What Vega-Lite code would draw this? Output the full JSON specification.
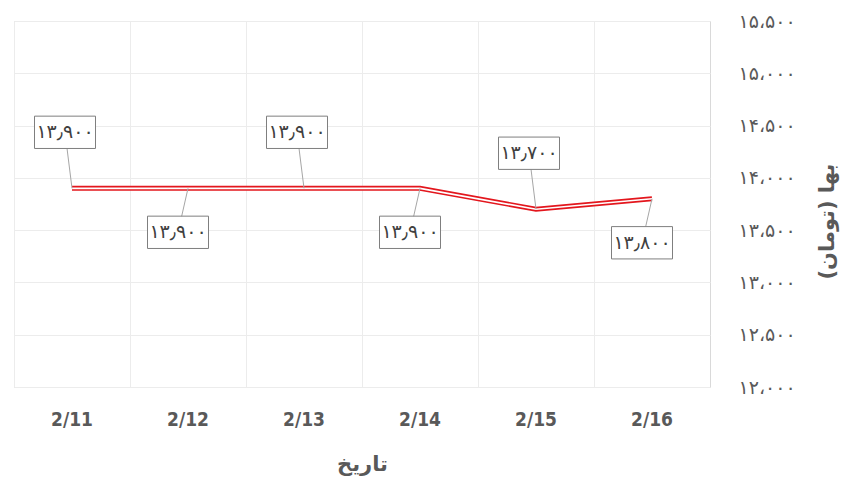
{
  "$schema": "https://vega.github.io/schema/vega-lite/v6.json",
  "description": "Daily price (toman), 2/11 to 2/16, line with boxed value labels.",
  "width": 696,
  "height": 366,
  "padding": {"left": 14, "top": 12, "right": 10, "bottom": 10},
  "background": "white",
  "data": {
    "values": [
      {"date": "2/11", "price": 13900},
      {"date": "2/12", "price": 13900},
      {"date": "2/13", "price": 13900},
      {"date": "2/14", "price": 13900},
      {"date": "2/15", "price": 13700},
      {"date": "2/16", "price": 13800}
    ]
  },
  "transform": [
    {
      "calculate": "replace(replace(replace(replace(replace(replace(replace(replace(replace(replace(replace(format(datum.price, ','), regexp(',', 'g'), '٫'), regexp('0', 'g'), '۰'), regexp('1', 'g'), '۱'), regexp('2', 'g'), '۲'), regexp('3', 'g'), '۳'), regexp('4', 'g'), '۴'), regexp('5', 'g'), '۵'), regexp('6', 'g'), '۶'), regexp('7', 'g'), '۷'), regexp('8', 'g'), '۸'), regexp('9', 'g'), '۹')",
      "as": "label"
    }
  ],
  "encoding": {
    "x": {
      "field": "date",
      "type": "nominal",
      "sort": null,
      "bandPosition": 0.5,
      "scale": {"type": "band", "paddingInner": 0, "paddingOuter": 0},
      "axis": {
        "orient": "bottom",
        "title": "تاریخ",
        "labelAngle": 0,
        "labelFont": "DejaVu Sans Condensed",
        "labelFontSize": 19,
        "labelFontWeight": "bold",
        "labelColor": "#595959",
        "labelPadding": 23,
        "titleFont": "DejaVu Sans",
        "titleFontSize": 21,
        "titleFontWeight": "bold",
        "titleColor": "#595959",
        "titlePadding": 24,
        "domain": false,
        "ticks": false,
        "grid": true,
        "bandPosition": 0,
        "gridColor": "#ececec"
      }
    },
    "y": {
      "field": "price",
      "type": "quantitative",
      "scale": {"domain": [12000, 15500], "nice": false, "zero": false},
      "axis": {
        "orient": "right",
        "title": "بها (تومان)",
        "values": [12000, 12500, 13000, 13500, 14000, 14500, 15000, 15500],
        "labelExpr": "replace(replace(replace(replace(replace(replace(replace(replace(replace(replace(replace(format(datum.value, ','), regexp(',', 'g'), '،'), regexp('0', 'g'), '۰'), regexp('1', 'g'), '۱'), regexp('2', 'g'), '۲'), regexp('3', 'g'), '۳'), regexp('4', 'g'), '۴'), regexp('5', 'g'), '۵'), regexp('6', 'g'), '۶'), regexp('7', 'g'), '۷'), regexp('8', 'g'), '۸'), regexp('9', 'g'), '۹')",
        "labelFont": "DejaVu Sans",
        "labelFontSize": 19,
        "labelColor": "#595959",
        "labelPadding": 28,
        "titleFont": "DejaVu Sans",
        "titleFontSize": 21,
        "titleFontWeight": "bold",
        "titleColor": "#595959",
        "titleAngle": 270,
        "titleY": 200,
        "titlePadding": 42,
        "domain": false,
        "ticks": false,
        "grid": true,
        "gridColor": "#ececec"
      }
    }
  },
  "layer": [
    {
      "mark": {"type": "line", "color": "#e3161d", "strokeWidth": 5},
      "encoding": {}
    },
    {
      "mark": {"type": "line", "color": "white", "strokeWidth": 1.7},
      "encoding": {}
    },
    {
      "transform": [{"filter": "indexof(['2/11', '2/13', '2/15'], datum.date) >= 0"}],
      "layer": [
        {
          "mark": {"type": "rule", "color": "#a6a6a6", "strokeWidth": 1, "x2Offset": -7, "y2Offset": -56},
          "encoding": {
            "x2": {"field": "date", "bandPosition": 0.5},
            "y2": {"field": "price"}
          }
        },
        {
          "mark": {"type": "point", "shape": "M-1,-0.53H1V0.53H-1Z", "size": 3721, "filled": true, "fill": "white", "stroke": "#7f7f7f", "strokeWidth": 1, "opacity": 1, "xOffset": -7, "yOffset": -56}
        },
        {
          "mark": {"type": "text", "font": "DejaVu Sans", "fontSize": 19, "color": "#404040", "xOffset": -7, "yOffset": -56},
          "encoding": {"text": {"field": "label"}}
        }
      ]
    },
    {
      "transform": [{"filter": "indexof(['2/12', '2/14', '2/16'], datum.date) >= 0"}],
      "layer": [
        {
          "mark": {"type": "rule", "color": "#a6a6a6", "strokeWidth": 1, "x2Offset": -10, "y2Offset": 44},
          "encoding": {
            "x2": {"field": "date", "bandPosition": 0.5},
            "y2": {"field": "price"}
          }
        },
        {
          "mark": {"type": "point", "shape": "M-1,-0.53H1V0.53H-1Z", "size": 3721, "filled": true, "fill": "white", "stroke": "#7f7f7f", "strokeWidth": 1, "opacity": 1, "xOffset": -10, "yOffset": 44}
        },
        {
          "mark": {"type": "text", "font": "DejaVu Sans", "fontSize": 19, "color": "#404040", "xOffset": -10, "yOffset": 44},
          "encoding": {"text": {"field": "label"}}
        }
      ]
    }
  ],
  "config": {
    "view": {"stroke": "#d9d9d9"}
  }
}
